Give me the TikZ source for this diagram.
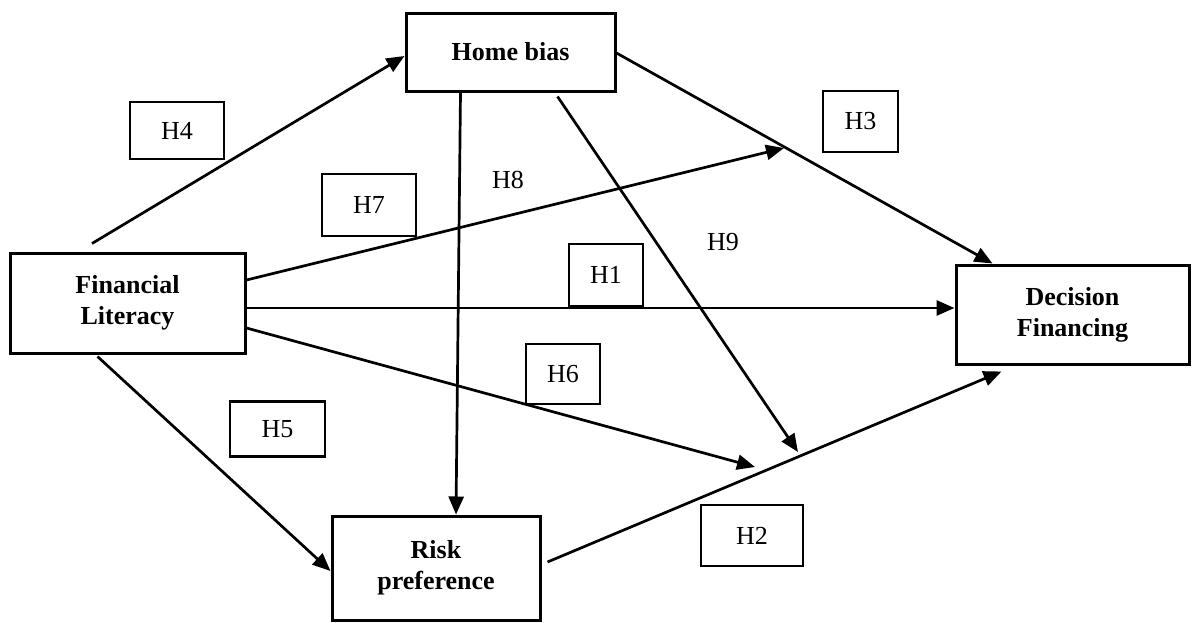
\documentclass[tikz,border=0pt]{standalone}
\usepackage{fontspec}
\setmainfont{Liberation Serif}
\usepackage{tikz}
\usetikzlibrary{arrows.meta,positioning,calc}

\begin{document}
\begin{tikzpicture}[
  x=1pt, y=-1pt,
  box/.style={draw, line width=3pt, fill=white, align=center, inner sep=0pt, font=\fontsize{26}{31}\selectfont\bfseries},
  hyp/.style={draw, line width=2.5pt, fill=white, inner sep=0pt, font=\fontsize{26}{31}\selectfont},
  path/.style={line width=2.7pt, -{Triangle[length=18pt,width=15pt]}},
  tag/.style={inner sep=0pt, font=\fontsize{26}{31}\selectfont}
]
  \useasboundingbox (0,0) rectangle (1192,622);

  \node[box, minimum width=235pt, minimum height=100pt] (fl) at (127.5,303) {Financial\\Literacy};
  \node[box, minimum width=209pt, minimum height=78pt] (hb) at (510.5,52) {Home bias};
  \node[box, minimum width=233pt, minimum height=99pt] (df) at (1072.5,314.5) {Decision\\Financing};
  \node[box, minimum width=208pt, minimum height=104pt] (rp) at (436,568) {Risk\\preference};

  \node[hyp, minimum width=94pt, minimum height=57pt] (h4) at (177,130.5) {H4};
  \node[hyp, minimum width=94pt, minimum height=62pt] (h7) at (369,205) {H7};
  \node[hyp, minimum width=75pt, minimum height=61pt] (h3) at (860.5,121.5) {H3};
  \node[hyp, minimum width=74pt, minimum height=62pt] (h1) at (606,275) {H1};
  \node[hyp, minimum width=74pt, minimum height=60pt] (h6) at (563,374) {H6};
  \node[hyp, minimum width=95pt, minimum height=55pt] (h5) at (277.5,429) {H5};
  \node[hyp, minimum width=102pt, minimum height=61pt] (h2) at (752,535.5) {H2};
  \node[tag] (h8) at (508,180) {H8};
  \node[tag] (h9) at (723,242) {H9};

  \coordinate (h3tip) at (784,148);
  \coordinate (h6tip) at (755,467);
  \coordinate (h9tip) at (798,452);

  \draw[path] ([xshift=-35.5pt,yshift=8pt]fl.north) -- ([yshift=-4pt]hb.west);
  \draw[path] ([yshift=23pt]fl.east) -- (h3tip);
  \draw[path] ([yshift=-5pt]fl.east) -- ([yshift=-5pt]fl.east -| df.west);
  \draw[path] ([yshift=-25pt]fl.east) -- (h6tip);
  \draw[path] ([xshift=-30pt,yshift=-2pt]fl.south) -- ([yshift=-3pt]rp.west);
  \draw[path] ([xshift=-50pt]hb.south) -- ([xshift=20pt]rp.north);
  \draw[path] ([xshift=47pt,yshift=-4pt]hb.south) -- (h9tip);
  \draw[path] ([yshift=-1pt]hb.east) -- ([xshift=-80pt]df.north);
  \draw[path] ([xshift=6pt,yshift=6pt]rp.east) -- ([xshift=-71pt,yshift=-6pt]df.south);
\end{tikzpicture}
\end{document}
